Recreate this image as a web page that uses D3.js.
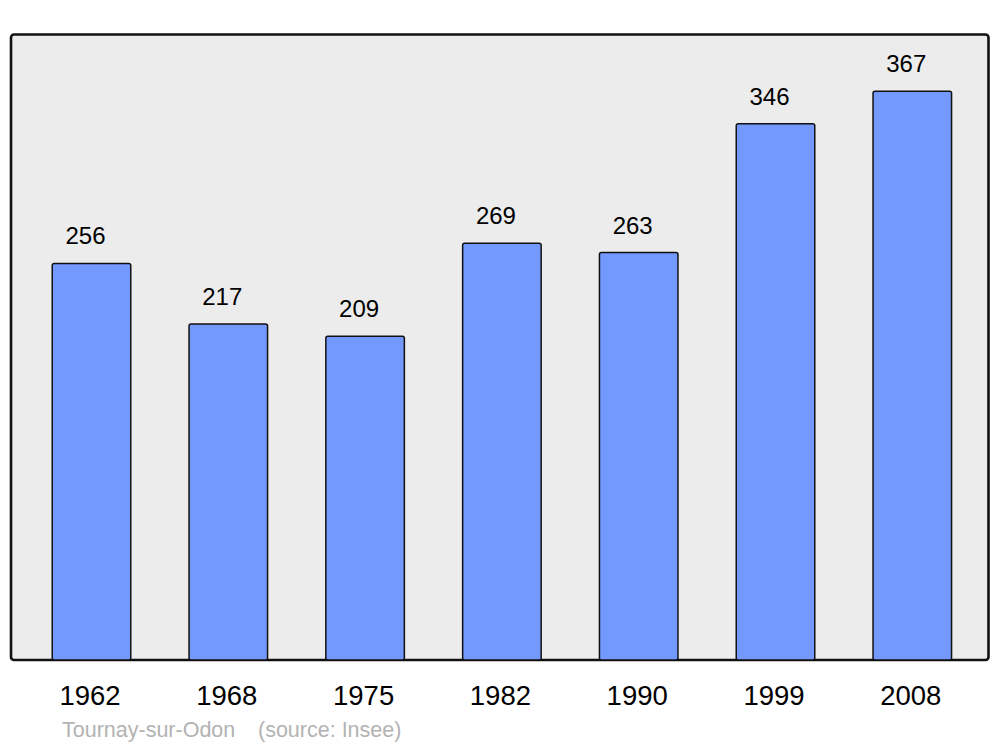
<!DOCTYPE html>
<html>
<head>
<meta charset="utf-8">
<script src="https://cdn.jsdelivr.net/npm/d3@7/dist/d3.min.js"></script>
<style>
  body { margin: 0; background: #fff; }
  svg text { font-family: "Liberation Sans", Arial, sans-serif; }
</style>
</head>
<body>
<svg id="chart" width="1000" height="747"></svg>
<script>
// data
var years = ["1962", "1968", "1975", "1982", "1990", "1999", "2008"];
var population = [256, 217, 209, 269, 263, 346, 367];
var town = "Tournay-sur-Odon";
var source = "(source: Insee)";

var svg = d3.select("#chart");

// panel
svg.append("rect")
	.attr("x", 11).attr("y", 34.5)
	.attr("width", 977.5).attr("height", 625.5)
	.attr("rx", 3).attr("ry", 3)
	.attr("fill", "#ececec")
	.attr("stroke", "#111")
	.attr("stroke-width", 2.6);

var x = d3.scaleBand()
	.domain(years)
	.range([23.1, 980.7])
	.paddingInner(0.426)
	.paddingOuter(0.213);

var y = d3.scaleLinear()
	.domain([0, 403.6])
	.range([660, 34]);

var data = years.map(function(yr, i){ return {"year": yr, "value": population[i]}; });

// bars
svg.append("g").selectAll("rect")
	.data(data)
	.enter().append("rect")
	.attr("x", function(d){ return x(d.year); })
	.attr("y", function(d){ return y(d.value) + 0.5; })
	.attr("width", x.bandwidth())
	.attr("height", function(d){ return y(0) - y(d.value) - 0.5; })
	.attr("rx", 2).attr("ry", 2)
	.attr("fill", "#7399ff")
	.attr("stroke", "#111")
	.attr("stroke-width", 1.5);

// value labels
svg.append("g").selectAll("text")
	.data(data)
	.enter().append("text")
	.attr("x", function(d){ return x(d.year) + x.bandwidth()/2 - 6; })
	.attr("y", function(d){ return y(d.value) - 18.5; })
	.attr("text-anchor", "middle")
	.attr("font-size", 24)
	.attr("fill", "#000")
	.text(function(d){ return d.value; });

// year axis labels
svg.append("g").selectAll("text")
	.data(years)
	.enter().append("text")
	.attr("x", function(d){ return x(d) + x.bandwidth()/2 - 1.5; })
	.attr("y", 705)
	.attr("text-anchor", "middle")
	.attr("font-size", 27.5)
	.attr("fill", "#000")
	.text(function(d){ return d; });

// footer
svg.append("text")
	.attr("x", 62).attr("y", 737)
	.attr("font-size", 21.5)
	.attr("fill", "#b3b3b3")
	.text(town);
svg.append("text")
	.attr("x", 258).attr("y", 737)
	.attr("font-size", 21.5)
	.attr("fill", "#b3b3b3")
	.text(source);
</script>
</body>
</html>
